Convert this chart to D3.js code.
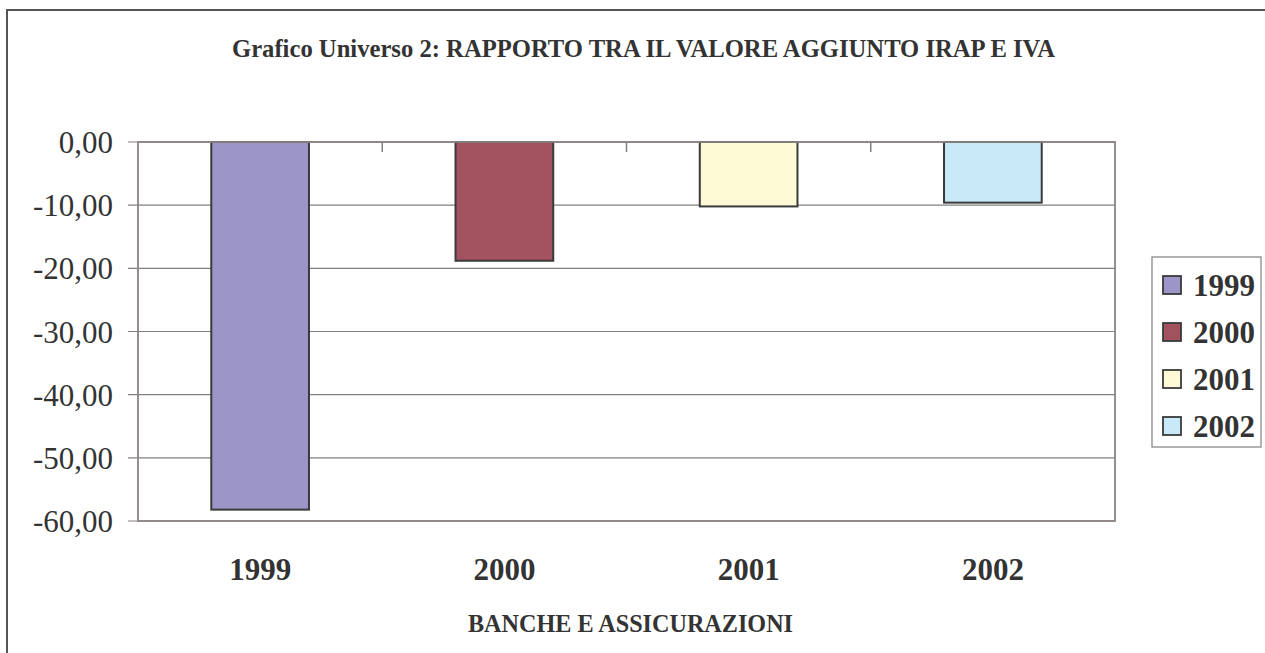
<!DOCTYPE html>
<html>
<head>
<meta charset="utf-8">
<script src="https://cdn.jsdelivr.net/npm/d3@7"></script>
<style>
  body { margin: 0; background: #fff; }
  text { font-family: "Liberation Serif", "Times New Roman", serif; fill: #333; }
</style>
</head>
<body>
<svg width="1265" height="653"></svg>
<script>
const years = ['1999', '2000', '2001', '2002']
const values = [-58.2, -18.8, -10.2, -9.6]
const colors = ['#9b95c8', '#a3525f', '#fffad6', '#c8e9f8']
const yTicks = [0, -10, -20, -30, -40, -50, -60]
const title = 'Grafico Universo 2: RAPPORTO TRA IL VALORE AGGIUNTO IRAP E IVA'
const xTitle = 'BANCHE E ASSICURAZIONI'

const svg = d3.select('svg')
const width = +svg.attr('width')
const height = +svg.attr('height')
const margin = { left: 138, right: 150, top: 142, bottom: 132 }
const fmt = v => d3.format('.2f')(v).replace('.', ',').replace('−', '-')

// outer frame (right/bottom edges are off the picture)
svg.append('rect')
    .attr('x', 7).attr('y', 10)
    .attr('width', width + 20).attr('height', height + 20)
    .style('fill', 'none').style('stroke', '#555').style('stroke-width', 2)

const x = d3.scaleBand()
    .domain(years)
    .range([margin.left, width - margin.right])

const y = d3.scaleLinear()
    .domain([-60, 0])
    .range([height - margin.bottom, margin.top])

// gridlines
svg.append('g')
    .selectAll('line')
    .data(yTicks)
    .enter()
    .append('line')
    .attr('x1', margin.left - 10)
    .attr('x2', x.range()[1])
    .attr('y1', d => y(d))
    .attr('y2', d => y(d))
    .style('stroke', '#808080')
    .style('stroke-width', 1.2)

// y tick labels
svg.append('g')
    .selectAll('text')
    .data(yTicks)
    .enter()
    .append('text')
    .attr('x', 113)
    .attr('y', d => y(d) + 11)
    .attr('text-anchor', 'end')
    .style('font-size', '31px')
    .text(d => fmt(d))

// top axis ticks between categories
svg.append('g')
    .selectAll('line')
    .data(years.slice(1))
    .enter()
    .append('line')
    .attr('x1', d => x(d)).attr('x2', d => x(d))
    .attr('y1', y(0)).attr('y2', y(0) + 10)
    .style('stroke', '#808080')
    .style('stroke-width', 1.5)

// bars
const bw = x.bandwidth() * 0.4
svg.append('g')
    .selectAll('rect')
    .data(years)
    .enter()
    .append('rect')
    .attr('x', d => x(d) + (x.bandwidth() - bw) / 2)
    .attr('y', y(0))
    .attr('width', bw)
    .attr('height', (d, i) => y(values[i]) - y(0))
    .style('fill', (d, i) => colors[i])
    .style('stroke', '#3a3a3a')
    .style('stroke-width', 2)

// plot frame
svg.append('rect')
    .attr('x', margin.left)
    .attr('y', y(0))
    .attr('width', x.range()[1] - margin.left)
    .attr('height', y(-60) - y(0))
    .style('fill', 'none')
    .style('stroke', '#8c8282')
    .style('stroke-width', 1.8)

// category labels
svg.append('g')
    .selectAll('text')
    .data(years)
    .enter()
    .append('text')
    .attr('x', d => x(d) + x.bandwidth() / 2)
    .attr('y', 580)
    .attr('text-anchor', 'middle')
    .style('font-size', '31px')
    .style('font-weight', 'bold')
    .text(d => d)

// titles
svg.append('text')
    .attr('x', 232)
    .attr('y', 57)
    .attr('textLength', 823)
    .attr('lengthAdjust', 'spacingAndGlyphs')
    .style('font-size', '26px')
    .style('font-weight', 'bold')
    .text(title)

svg.append('text')
    .attr('x', 468)
    .attr('y', 632)
    .attr('textLength', 325)
    .attr('lengthAdjust', 'spacingAndGlyphs')
    .style('font-size', '25px')
    .style('font-weight', 'bold')
    .text(xTitle)

// legend
const legend = svg.append('g').attr('transform', 'translate(1152,257)')
legend.append('rect')
    .attr('width', 109).attr('height', 190)
    .style('fill', '#fff')
    .style('stroke', '#808080')
    .style('stroke-width', 1.2)

const item = legend.selectAll('g.item')
    .data(years)
    .enter()
    .append('g')
    .attr('class', 'item')
    .attr('transform', (d, i) => `translate(0,${28 + i * 47})`)

item.append('rect')
    .attr('x', 11).attr('y', -9)
    .attr('width', 18).attr('height', 18)
    .style('fill', (d, i) => colors[i])
    .style('stroke', '#3a3a3a')
    .style('stroke-width', 1.8)

item.append('text')
    .attr('x', 41)
    .attr('y', 11)
    .style('font-size', '31px')
    .style('font-weight', 'bold')
    .text(d => d)
</script>
</body>
</html>
